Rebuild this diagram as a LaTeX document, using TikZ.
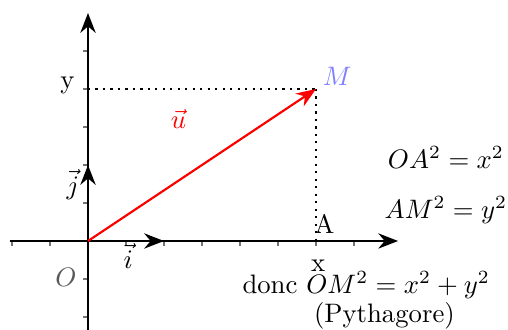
\documentclass[tikz,border=0pt]{standalone}
\usepackage{amsmath,amssymb}
\usetikzlibrary{arrows.meta,positioning}
\tikzset{
  axe/.style    ={->,draw=black,line width=1pt},
  gradu/.style  ={draw=black!55,line width=0.4pt},
  vecb/.style   ={->,draw=black,line width=1pt},
  vecu/.style   ={->,draw=red,line width=0.8pt},
  proj/.style   ={draw=black,dotted,line width=0.8pt},
  lbl/.style    ={font=\normalsize,inner sep=1pt},
}

\begin{document}
\begin{tikzpicture}[
  >={Stealth[length=2.6mm,width=2mm]},
  x=1cm, y=1cm,
]
\useasboundingbox (-1.158,-1.158) rectangle (5.526,3.171);

%% ---------------- points ----------------
\coordinate (O) at (0,0);
\coordinate (I) at (1,0);
\coordinate (J) at (0,1);
\coordinate (A) at (3,0);
\coordinate (Y) at (0,2);
\coordinate (M) at (3,2);
\coordinate (xmin) at (-1.03,0);
\coordinate (xmax) at ( 4.08,0);
\coordinate (ymin) at (0,-1.3);
\coordinate (ymax) at (0, 3.0);

%% ---------------- graduations ----------------
\foreach \t in {-1,-0.5,0.5,1,...,3.5}
  \draw[gradu] (\t,0) -- (\t,-0.07);
\foreach \t in {-1,-0.5,0.5,1,1.5,2,2.5}
  \draw[gradu] (0,\t) -- (-0.07,\t);

%% ---------------- axes and vectors ----------------
\draw[axe] (xmin) -- (xmax);
\draw[axe] (ymin) -- (ymax);
\draw[vecb] (O) -- (I);
\draw[vecb] (O) -- (J);
\draw[proj] (Y) -- (M);
\draw[proj] (M) -- (A);
\draw[vecu] (O) -- (M);

%% ---------------- labels ----------------
\node[lbl,text=black!65] (lO) at (-0.29,-0.48) {$O$};
\node[lbl] (li) at ( 0.53,-0.20) {$\vec{i}$};
\node[lbl] (lj) at (-0.20, 0.74) {$\vec{j}$};
\node[lbl,text=red] (lu) at (1.19,1.60) {$\vec{u}$};
\node[lbl,text=blue!50] (lM) at (3.28,2.16) {$M$};
\node[lbl] (ly) at (-0.27,2.05) {y};
\node[lbl] (lx) at ( 3.03,-0.32) {x};
\node[lbl] (lA) at ( 3.11, 0.22) {A};

\node[lbl] (oa) at (4.71,1.10) {$OA^2 = x^2$};
\node[lbl] (am) at (4.71,0.41) {$AM^2 = y^2$};
\node[lbl] (om) at (3.66,-0.58) {donc $OM^2 = x^2 + y^2$};
\node[lbl] (py) at (3.90,-0.99) {(Pythagore)};

\end{tikzpicture}
\end{document}
